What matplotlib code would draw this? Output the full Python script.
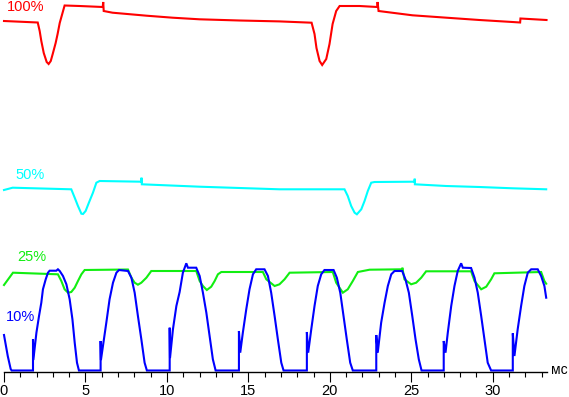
import matplotlib
matplotlib.use('Agg')
import matplotlib.pyplot as plt

# time in ms, level in arbitrary units (0 = black)
t_100 = [0, 2.07, 2.19, 2.29, 2.44, 2.62, 2.74, 2.87, 2.99, 3.17, 3.29, 3.42, 3.54, 3.72,
         4.64, 6.06, 6.09, 6.12, 6.66, 8.75, 10.35, 12.0, 14.46, 16.91, 18.88, 19.06, 19.18,
         19.37, 19.53, 19.78, 19.98, 20.17, 20.39, 20.6, 21.82, 22.91, 22.93, 22.99, 25.07,
         27.16, 29.18, 31.21, 31.68, 31.7, 33.3]
v_100 = [351, 349.5, 341, 331, 319, 310, 308, 311, 318, 329, 338, 349, 356, 366.5,
         366, 365, 370, 361, 359.3, 356.3, 354.3, 352.7, 351.5, 350.6, 349.3, 338, 324,
         311, 307, 313, 328, 348, 361, 366, 366, 365, 370, 361, 356.7,
         354.3, 352, 350, 349.5, 353.5, 352]

t_50 = [0, 0.53, 4.13, 4.34, 4.54, 4.75, 4.85, 5.01, 5.21, 5.46, 5.67, 5.87, 8.43, 8.44,
        8.46, 12.01, 16.91, 20.9, 21.1, 21.31, 21.52, 21.66, 21.93, 22.13, 22.33, 22.54,
        22.74, 25.2, 25.21, 25.22, 27.14, 29.18, 31.23, 33.28]
v_50 = [182, 184.3, 182.7, 174.3, 166, 158.3, 158, 161, 169.3, 179.3, 189.3, 191, 190.3, 194.3,
        187.7, 185.3, 182.7, 182.7, 176, 166, 159.3, 157.7, 162.7, 171, 181, 189.3,
        190, 190.3, 193.3, 187.7, 186, 185, 183.7, 182.7]

t_25 = [0, 0.55, 3.31, 3.52, 3.72, 3.93, 4.13, 4.34, 4.54, 4.75, 4.95, 7.61, 7.82, 8.02,
        8.22, 8.43, 8.74, 9.04, 11.8, 12.01, 12.21, 12.45, 12.72, 12.93, 13.13, 13.34,
        15.89, 16.1, 16.61, 16.91, 17.22, 17.53, 20.18, 20.39, 20.8, 21.1, 21.41, 21.72,
        22.44, 24.44, 24.45, 24.58, 24.99, 25.3, 25.61, 25.91, 28.67, 28.88, 29.29, 29.6,
        29.9, 30.1, 32.97, 33.17, 33.28]
v_25 = [87, 99.3, 97.7, 91, 82.7, 79.3, 80, 84.3, 91, 97.7, 102, 102.5, 94.3, 89.3,
        87.3, 89.3, 94.3, 101, 101, 91, 86, 82, 85.3, 91, 97.7, 100,
        100, 92.7, 86, 87.7, 92.7, 99.3, 100, 89.3, 79.3, 82.7, 91, 100,
        102.3, 102.7, 104.3, 92.7, 87.7, 89.3, 94.3, 100.7, 100.7, 91, 82.7, 85.3,
        92.7, 98.7, 100, 91, 88.3]

t_10 = [0, 0.23, 0.41, 0.47,
        1.78, 1.78, 1.80, 1.99, 2.15, 2.29, 2.39, 2.56, 2.70, 2.80, 3.21, 3.31, 3.42,
        3.62, 3.83, 4.03, 4.20, 4.34, 4.48, 4.60,
        5.93, 5.93, 5.95, 6.28, 6.48, 6.69, 6.90, 7.06, 7.61,
        7.82, 8.02, 8.22, 8.43, 8.63, 8.77,
        10.17, 10.17, 10.19, 10.37, 10.58, 10.78, 10.98, 11.09, 11.19, 11.29, 11.80,
        12.01, 12.21, 12.42, 12.62, 12.82, 12.99,
        14.42, 14.42, 14.50, 14.66, 14.87, 15.07, 15.28, 15.48, 15.99,
        16.20, 16.40, 16.61, 16.81, 17.02, 17.16,
        18.59, 18.59, 18.67, 18.86, 19.06, 19.26, 19.47, 19.67, 20.23,
        20.43, 20.64, 20.84, 21.04, 21.25, 21.41,
        22.85, 22.85, 22.94, 23.15, 23.36, 23.56, 23.77, 23.97, 24.44,
        24.64, 24.85, 25.06, 25.26, 25.46, 25.63,
        26.99, 26.99, 27.10, 27.24, 27.45, 27.65, 27.85, 28.06, 28.16, 28.67,
        28.88, 29.08, 29.29, 29.49, 29.69, 29.90,
        31.23, 31.23, 31.33, 31.53, 31.74, 31.94, 32.15, 32.36, 32.76,
        32.97, 33.17, 33.28]
v_10 = [37, 16, 3, 1.5,
        1.5, 32.7, 12, 39.3, 56, 69.3, 82.7, 92.7, 99.3, 101.3, 101.3, 102.7, 101,
        96, 87.7, 72.7, 52.7, 29.3, 9.3, 1.5,
        1.5, 31, 12, 49.3, 72.7, 89.3, 99.3, 102, 101,
        94.3, 79.3, 56, 32.7, 9.3, 1.5,
        1.5, 44.3, 14, 42.7, 66, 80, 99.3, 104.3, 108.7, 104.3, 104.3,
        96, 79.3, 59.3, 36, 12.7, 1.5,
        1.5, 41, 19.3, 39.3, 62.7, 82.7, 97.7, 102.7, 102.7,
        96, 79.3, 56, 32.7, 9.3, 1.5,
        1.5, 40, 19.3, 42.7, 66, 86, 97.7, 102, 102,
        94.3, 79.3, 56, 32.7, 9.3, 1.5,
        1.5, 37, 19.3, 49.3, 69.3, 86, 97.7, 101, 101,
        92.7, 79.3, 56, 32.7, 12.7, 1.5,
        1.5, 31, 19.3, 39.3, 66, 86, 101, 108.7, 104.3, 104,
        94.3, 79.3, 56, 32.7, 9.3, 1.5,
        1.5, 38.7, 16, 42.7, 66, 86, 99.3, 102.7, 102.7,
        96, 86, 74.3]

labels = ['100%', '50%', '25%', '10%']
colors = ['#ff0000', '#00ffff', '#11ee11', '#0000ff']
label_pos = [(0.15, 365), (0.72, 197), (0.82, 115), (0.12, 55)]

plt.rcParams['font.family'] = ['Liberation Sans', 'DejaVu Sans']

fig = plt.figure(figsize=(5.69, 3.97), dpi=100)
ax = fig.add_axes([0, 0, 1, 1])

series = [(t_100, v_100), (t_50, v_50), (t_25, v_25), (t_10, v_10)]
for (t, v), c in zip(series, colors):
    ax.plot(t, v, color=c, lw=1.5, solid_joinstyle='miter')

for lab, c, (x, y) in zip(labels, colors, label_pos):
    ax.text(x, y, lab, color=c, fontsize=10.5, va='center', ha='left')

ax.set_xlim(-0.2455, 34.68)
ax.set_ylim(-25, 372)

for s in ['top', 'left', 'right']:
    ax.spines[s].set_visible(False)
ax.spines['bottom'].set_position(('data', 0))
ax.spines['bottom'].set_bounds(0, 33.3)
ax.spines['bottom'].set_linewidth(1.0)
ax.yaxis.set_visible(False)

ax.set_xticks(range(0, 31, 5))
ax.set_xticks([m for m in range(1, 34) if m % 5], minor=True)
ax.tick_params(axis='x', which='major', direction='out', length=7.2, width=0.8,
               pad=1.5, labelsize=10.5)
ax.tick_params(axis='x', which='minor', direction='out', length=3.6, width=0.8)

ax.text(33.55, 1.5, 'мс', fontsize=10, va='center', ha='left')

fig.savefig('out.png', dpi=100)
